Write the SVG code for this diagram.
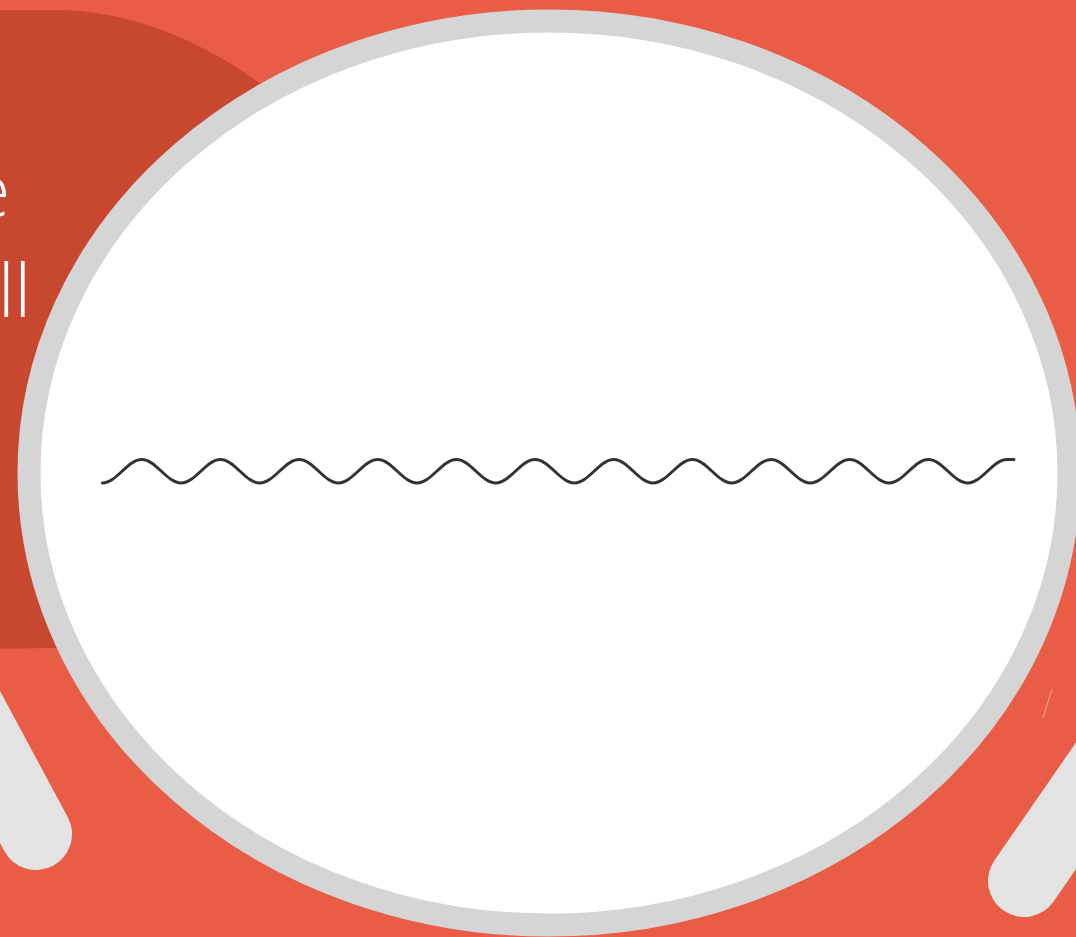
<svg xmlns="http://www.w3.org/2000/svg" width="1076" height="937" viewBox="0 0 1076 937">
  <style>
    .bg { fill: #E95D47; }
    .dark { fill: #C8472F; }
    .title { fill: #FFFFFF; font-family: "Open Sans", "Lato", "Liberation Sans", sans-serif; font-weight: 300; font-size: 73px; }
    .leg { stroke: #E3E3E3; stroke-width: 72; stroke-linecap: round; fill: none; }
    .face { fill: #FFFFFF; stroke: #D5D5D5; stroke-width: 23; }
    .wave { fill: none; stroke: #333333; stroke-width: 3; stroke-linecap: round; }
  </style>
  <rect class="bg" x="0" y="0" width="1076" height="937"/>
  <g id="backdrop">
    <path class="dark" d="M-10,10 L55,10 Q202.5,10 350,162 L350,640 Q200,646 -10,649 Z"/>
    <text class="title" x="10" y="217" text-anchor="end">e</text>
    <text class="title" x="31" y="317" text-anchor="end">ll</text>
  </g>
  <g id="legs">
    <line class="leg" x1="-153.6" y1="481.6" x2="36" y2="834"/>
    <line class="leg" x1="1194.7" y1="634" x2="1024" y2="881"/>
    <line x1="1052" y1="689" x2="1043" y2="718" stroke="#F4A497" stroke-width="1"/>
  </g>
  <g id="screen">
    <ellipse class="face" cx="549" cy="473" rx="520" ry="452"/>
  </g>
  <g id="connectors">
    <path class="wave" d="M102.4,483 C116.7,483 127.4,459.5 141.7,459.5 S166.8,483 181.1,483 S206.1,459.5 220.4,459.5 S245.4,483 259.7,483 S284.8,459.5 299.1,459.5 S324.1,483 338.4,483 S363.4,459.5 377.7,459.5 S402.7,483 417.0,483 S442.1,459.5 456.4,459.5 S481.4,483 495.7,483 S520.7,459.5 535.0,459.5 S560.1,483 574.4,483 S599.4,459.5 613.7,459.5 S638.7,483 653.0,483 S678.1,459.5 692.4,459.5 S717.4,483 731.7,483 S756.7,459.5 771.0,459.5 S796.0,483 810.3,483 S835.4,459.5 849.7,459.5 S874.7,483 889.0,483 S914.0,459.5 928.3,459.5 S953.4,483 967.7,483 S992.7,459.5 1007.0,459.5 L1014,459.5"/>
  </g>
</svg>
